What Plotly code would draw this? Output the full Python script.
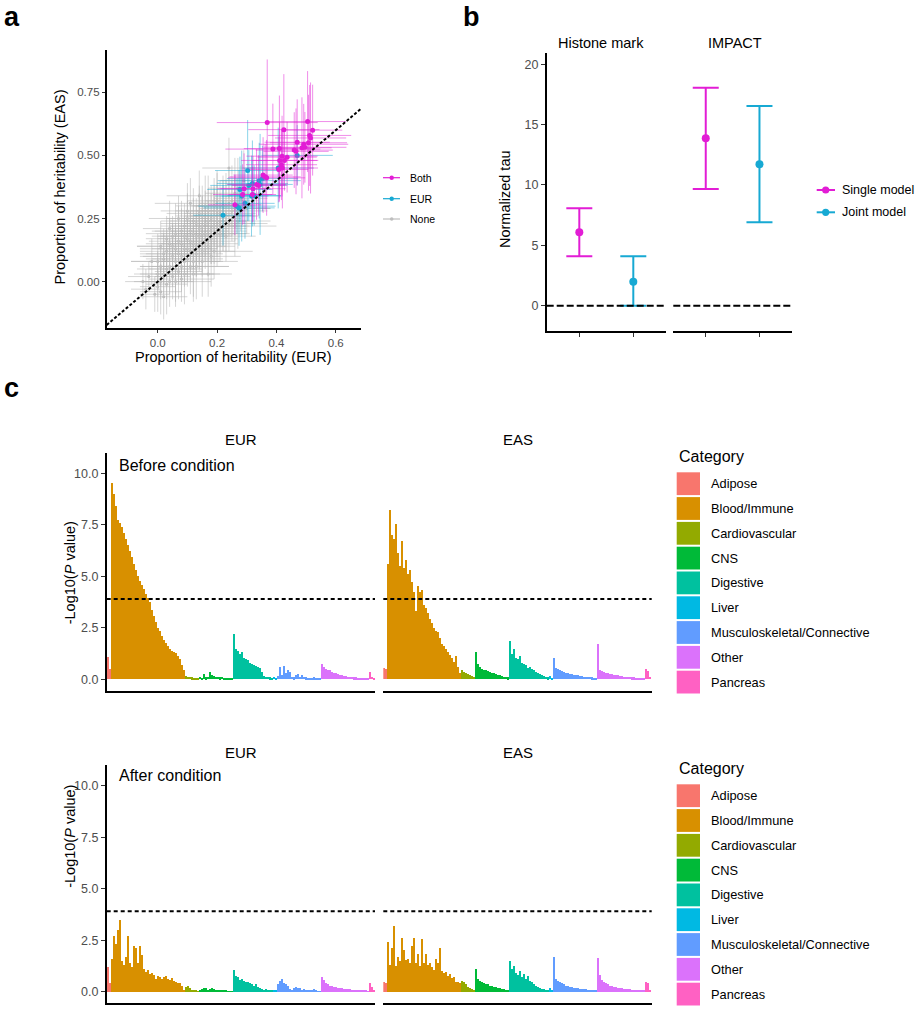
import numpy as np
import plotly.graph_objects as go

W, H = 915, 1010
FONT = "Liberation Sans, Arial, sans-serif"
TICK_GREY = "#4D4D4D"

# ---------------- panel a: proportion of heritability ----------------
both_x = [0.369, 0.425, 0.505, 0.522, 0.512, 0.515, 0.470, 0.508, 0.492, 0.486, 0.496,
          0.388, 0.410, 0.460, 0.466, 0.419, 0.436, 0.411, 0.427, 0.417, 0.408, 0.420,
          0.355, 0.362, 0.333, 0.340, 0.321, 0.291, 0.286, 0.319, 0.260, 0.367]
both_y = [0.630, 0.602, 0.634, 0.600, 0.579, 0.569, 0.552, 0.550, 0.544, 0.530, 0.532,
          0.525, 0.527, 0.521, 0.516, 0.497, 0.493, 0.480, 0.480, 0.463, 0.444, 0.450,
          0.422, 0.415, 0.385, 0.381, 0.368, 0.368, 0.345, 0.345, 0.304, 0.411]
both_xerr = [0.17, 0.12, 0.13, 0.10, 0.14, 0.12, 0.11, 0.13, 0.15, 0.10, 0.14,
             0.16, 0.12, 0.13, 0.11, 0.12, 0.10, 0.13, 0.11, 0.12, 0.10, 0.12,
             0.10, 0.12, 0.10, 0.09, 0.11, 0.09, 0.10, 0.08, 0.09, 0.13]
both_yerr = [0.25, 0.22, 0.20, 0.18, 0.20, 0.22, 0.17, 0.19, 0.16, 0.20, 0.14,
             0.18, 0.21, 0.15, 0.17, 0.16, 0.14, 0.15, 0.12, 0.14, 0.13, 0.16,
             0.15, 0.13, 0.14, 0.12, 0.13, 0.14, 0.12, 0.11, 0.12, 0.15]

eur_x = [0.220, 0.274, 0.283, 0.303, 0.307, 0.316, 0.319, 0.342, 0.345, 0.353, 0.325,
         0.294, 0.267, 0.406, 0.470, 0.277]
eur_y = [0.263, 0.292, 0.339, 0.440, 0.381, 0.339, 0.389, 0.400, 0.385, 0.408, 0.341,
         0.310, 0.299, 0.450, 0.500, 0.365]
eur_xerr = [0.10, 0.12, 0.09, 0.11, 0.13, 0.10, 0.12, 0.14, 0.11, 0.12, 0.09,
            0.10, 0.13, 0.12, 0.12, 0.11]
eur_yerr = [0.12, 0.15, 0.18, 0.20, 0.14, 0.16, 0.17, 0.15, 0.20, 0.13, 0.12,
            0.14, 0.11, 0.16, 0.12, 0.13]

none_x = [-0.05, -0.04, -0.03, -0.01, 0.00, 0.00, 0.01, 0.01, 0.02, 0.02, 0.03, 0.03,
          0.04, 0.04, 0.05, 0.05, 0.05, 0.06, 0.06, 0.07, 0.07, 0.08, 0.08, 0.08,
          0.09, 0.09, 0.10, 0.10, 0.10, 0.11, 0.11, 0.12, 0.12, 0.12, 0.13, 0.13,
          0.14, 0.14, 0.15, 0.15, 0.15, 0.16, 0.16, 0.17, 0.17, 0.17, 0.18, 0.18,
          0.19, 0.19, 0.20, 0.20, 0.21, 0.21, 0.22, 0.22, 0.23, 0.24, 0.24, 0.25,
          0.26, 0.27, 0.28, 0.30, 0.10, 0.16, 0.06, 0.02, 0.09, 0.13, 0.04, 0.07,
          0.11, -0.02, 0.19, 0.23, 0.26, 0.29, 0.14, 0.01,
          0.00, 0.01, 0.03, 0.04, 0.05, 0.06, 0.07, 0.08, 0.09, 0.10, 0.11, 0.11,
          0.12, 0.13, 0.13, 0.14, 0.15, 0.15, 0.16, 0.17, 0.17, 0.18, 0.19, 0.20,
          0.20, 0.21, 0.22, 0.23, 0.24, 0.25, 0.02, 0.06, 0.08, 0.12, 0.18, 0.26,
          0.27, 0.09, 0.14, 0.03]
none_y = [0.00, -0.03, 0.02, -0.05, 0.03, -0.02, 0.06, 0.00, 0.09, 0.03, -0.01, 0.12,
          0.06, 0.15, 0.02, 0.10, 0.18, 0.08, 0.13, 0.04, 0.16, 0.10, 0.20, 0.06,
          0.13, 0.22, 0.09, 0.17, 0.25, 0.12, 0.20, 0.08, 0.15, 0.24, 0.18, 0.11,
          0.21, 0.15, 0.26, 0.12, 0.19, 0.23, 0.16, 0.28, 0.03, 0.20, 0.25, 0.17,
          0.22, 0.30, 0.32, 0.24, 0.19, 0.27, 0.30, 0.22, 0.26, 0.45, 0.31, 0.28,
          0.35, 0.24, 0.33, 0.29, 0.28, 0.30, 0.00, -0.06, 0.03, 0.06, 0.21, 0.25,
          0.31, 0.08, 0.12, 0.18, 0.22, 0.40, 0.34, 0.14,
          0.08, -0.04, 0.05, 0.00, 0.14, 0.05, 0.11, 0.15, 0.08, 0.13, 0.16, 0.06,
          0.19, 0.14, 0.23, 0.18, 0.22, 0.08, 0.19, 0.24, 0.14, 0.21, 0.26, 0.19,
          0.28, 0.23, 0.26, 0.30, 0.23, 0.32, 0.11, 0.19, 0.01, 0.03, 0.10, 0.29,
          0.37, 0.18, 0.27, 0.17]
none_xerr = [0.06, 0.05, 0.07, 0.05, 0.08, 0.06, 0.07, 0.09, 0.06, 0.08, 0.07, 0.09,
             0.10, 0.08, 0.06, 0.11, 0.07, 0.09, 0.12, 0.08, 0.10, 0.13, 0.09, 0.07,
             0.11, 0.08, 0.12, 0.10, 0.07, 0.09, 0.13, 0.10, 0.08, 0.11, 0.12, 0.09,
             0.10, 0.13, 0.09, 0.11, 0.08, 0.12, 0.10, 0.11, 0.08, 0.13, 0.10, 0.09,
             0.12, 0.08, 0.10, 0.11, 0.09, 0.12, 0.10, 0.08, 0.11, 0.09, 0.10, 0.12,
             0.10, 0.11, 0.09, 0.08, 0.09, 0.10, 0.12, 0.08, 0.10, 0.11, 0.09, 0.10,
             0.12, 0.07, 0.13, 0.10, 0.14, 0.08, 0.11, 0.08,
             0.09, 0.07, 0.10, 0.08, 0.12, 0.09, 0.11, 0.08, 0.12, 0.10, 0.09, 0.13,
             0.11, 0.10, 0.12, 0.09, 0.11, 0.12, 0.10, 0.13, 0.09, 0.12, 0.10, 0.11,
             0.09, 0.12, 0.11, 0.10, 0.13, 0.09, 0.08, 0.10, 0.11, 0.09, 0.10, 0.12,
             0.10, 0.09, 0.11, 0.07]
none_yerr = [0.07, 0.08, 0.06, 0.07, 0.09, 0.10, 0.08, 0.07, 0.10, 0.08, 0.12, 0.09,
             0.11, 0.10, 0.09, 0.12, 0.08, 0.13, 0.10, 0.11, 0.14, 0.09, 0.12, 0.10,
             0.13, 0.09, 0.11, 0.15, 0.10, 0.12, 0.11, 0.14, 0.10, 0.13, 0.12, 0.09,
             0.14, 0.11, 0.12, 0.10, 0.15, 0.13, 0.11, 0.14, 0.09, 0.12, 0.13, 0.10,
             0.15, 0.11, 0.12, 0.14, 0.11, 0.13, 0.12, 0.10, 0.14, 0.12, 0.13, 0.12,
             0.14, 0.11, 0.13, 0.10, 0.11, 0.12, 0.10, 0.09, 0.12, 0.13, 0.11, 0.09,
             0.10, 0.09, 0.11, 0.10, 0.12, 0.12, 0.10, 0.10,
             0.11, 0.09, 0.12, 0.10, 0.09, 0.13, 0.12, 0.14, 0.10, 0.13, 0.12, 0.11,
             0.14, 0.12, 0.10, 0.13, 0.12, 0.14, 0.11, 0.13, 0.12, 0.14, 0.12, 0.13,
             0.15, 0.12, 0.14, 0.13, 0.11, 0.14, 0.10, 0.12, 0.09, 0.11, 0.12, 0.13,
             0.12, 0.10, 0.11, 0.09]

# ---------------- panel b: normalized tau ----------------
b_models = ["Single model", "Joint model"]
b_histone = [6.08, 1.99]
b_histone_lo = [4.09, 0.0]
b_histone_hi = [8.07, 4.09]
b_impact = [13.87, 11.71]
b_impact_lo = [9.67, 6.91]
b_impact_hi = [18.06, 16.55]

# ---------------- panel c: -log10(P) per annotation ----------------
CATEGORIES = ["Adipose", "Blood/Immune", "Cardiovascular", "CNS", "Digestive", "Liver",
              "Musculoskeletal/Connective", "Other", "Pancreas"]
CAT_COLORS = ["#F8766D", "#D89000", "#93AA00", "#00BA38", "#00C19F", "#00B9E3",
              "#619CFF", "#DB72FB", "#FF61C3"]
THRESHOLD = 3.9

eur_before = {
    "Adipose": [1.05, 0.5],
    "Blood/Immune": [9.5, 9.0, 8.4, 7.7, 7.55, 7.4, 7.1, 6.8, 6.5, 6.2, 5.9, 5.6, 5.3, 5.0,
                     4.75, 4.55, 4.35, 4.15, 3.95, 3.75, 3.35, 3.05, 2.75, 2.5, 2.35, 2.1,
                     1.9, 1.75, 1.6, 1.45, 1.35, 1.3, 1.25, 1.1, 0.95, 0.7, 0.45],
    "Cardiovascular": [0.15, 0.12, 0.1, 0.08, 0.06, 0.04, 0.02],
    "CNS": [0.1, 0.05, 0.25, 0.08, 0.12, 0.35, 0.2, 0.15, 0.12, 0.1, 0.08, 0.1, 0.06, 0.05,
            0.04, 0.05, 0.03],
    "Digestive": [2.2, 1.45, 1.35, 1.2, 1.3, 1.0, 0.95, 0.9, 0.8, 0.75, 0.7, 0.65, 0.6, 0.55,
                  0.35, 0.15, 0.1, 0.1, 0.08, 0.05],
    "Liver": [0.1, 0.05],
    "Musculoskeletal/Connective": [0.15, 0.6, 0.2, 0.65, 0.3, 0.45, 0.35, 0.1, 0.08, 0.2, 0.22,
                                   0.1, 0.2, 0.12, 0.08, 0.05, 0.05, 0.04, 0.08, 0.03, 0.03, 0.02],
    "Other": [0.75, 0.6, 0.5, 0.45, 0.42, 0.35, 0.3, 0.28, 0.25, 0.2, 0.18, 0.15, 0.15, 0.12,
              0.1, 0.1, 0.08, 0.08, 0.06, 0.05, 0.05, 0.04, 0.04, 0.03],
    "Pancreas": [0.32, 0.1, 0.05],
}
eas_before = {
    "Adipose": [0.55, 0.5],
    "Blood/Immune": [5.6, 8.2, 7.0, 6.8, 7.5, 6.1, 5.5, 6.7, 5.4, 5.8, 5.1, 5.3, 4.7, 4.2, 3.3,
                     4.5, 4.2, 4.3, 3.6, 3.45, 3.2, 2.9, 2.7, 2.5, 2.35, 2.3, 2.0, 1.7, 1.6,
                     1.45, 1.3, 1.15, 1.0, 0.85, 1.1, 0.6, 0.3],
    "Cardiovascular": [0.45, 0.35, 0.3, 0.25, 0.2, 0.15, 0.1],
    "CNS": [1.3, 0.75, 0.6, 0.5, 0.45, 0.45, 0.4, 0.35, 0.3, 0.3, 0.25, 0.2, 0.2, 0.15, 0.12,
            0.1, 0.08],
    "Digestive": [1.85, 1.2, 1.45, 1.0, 0.95, 1.1, 0.8, 0.75, 0.7, 0.55, 0.6, 0.5, 0.45, 0.35,
                  0.3, 0.25, 0.2, 0.15, 0.1, 0.08],
    "Liver": [0.15, 0.05],
    "Musculoskeletal/Connective": [1.0, 0.55, 0.5, 0.45, 0.4, 0.35, 0.3, 0.3, 0.25, 0.25, 0.2,
                                   0.2, 0.18, 0.15, 0.15, 0.12, 0.12, 0.1, 0.1, 0.08, 0.06, 0.05],
    "Other": [1.7, 0.45, 0.4, 0.35, 0.3, 0.3, 0.25, 0.22, 0.2, 0.2, 0.18, 0.15, 0.15, 0.12,
              0.12, 0.1, 0.1, 0.08, 0.08, 0.07, 0.06, 0.05, 0.05, 0.05],
    "Pancreas": [0.5, 0.4, 0.1],
}
eur_after = {
    "Adipose": [1.2, 0.4],
    "Blood/Immune": [1.6, 2.7, 2.3, 3.0, 3.5, 1.5, 1.3, 1.7, 2.7, 1.4, 1.2, 2.2, 2.1, 1.4, 2.2,
                     1.8, 1.1, 0.95, 1.05, 0.85, 0.9, 0.8, 0.6, 0.75, 0.7, 0.6, 0.7, 0.75, 0.6,
                     0.55, 0.65, 0.5, 0.45, 0.4, 0.4, 0.3, 0.1],
    "Cardiovascular": [0.25, 0.28, 0.2, 0.1, 0.05, 0.05, 0.02],
    "CNS": [0.05, 0.15, 0.2, 0.18, 0.1, 0.15, 0.2, 0.12, 0.08, 0.05, 0.1, 0.05, 0.04, 0.05,
            0.03, 0.03, 0.02],
    "Digestive": [1.05, 0.75, 0.7, 0.55, 0.6, 0.5, 0.45, 0.45, 0.4, 0.35, 0.3, 0.35, 0.25, 0.2,
                  0.15, 0.1, 0.12, 0.08, 0.05, 0.05],
    "Liver": [0.1, 0.05],
    "Musculoskeletal/Connective": [0.35, 0.5, 0.6, 0.4, 0.35, 0.3, 0.15, 0.1, 0.2, 0.22, 0.18,
                                   0.2, 0.1, 0.12, 0.08, 0.05, 0.1, 0.05, 0.12, 0.04, 0.03, 0.02],
    "Other": [0.7, 0.55, 0.4, 0.35, 0.3, 0.28, 0.25, 0.22, 0.2, 0.2, 0.18, 0.15, 0.15, 0.12,
              0.12, 0.1, 0.1, 0.08, 0.07, 0.06, 0.05, 0.05, 0.04, 0.03],
    "Pancreas": [0.4, 0.25, 0.05],
}
eas_after = {
    "Adipose": [0.45, 0.4],
    "Blood/Immune": [2.4, 1.3, 2.1, 3.2, 1.25, 1.7, 1.5, 2.6, 2.0, 1.55, 1.6, 1.4, 2.2, 2.6,
                     1.4, 1.85, 1.25, 2.55, 1.4, 1.85, 1.3, 1.4, 1.2, 1.05, 1.6, 1.4, 2.1, 1.0,
                     0.9, 0.95, 0.75, 0.85, 0.65, 0.7, 0.45, 0.45, 0.4],
    "Cardiovascular": [0.5, 0.45, 0.35, 0.25, 0.2, 0.15, 0.1],
    "CNS": [1.1, 0.6, 0.5, 0.45, 0.4, 0.38, 0.35, 0.3, 0.28, 0.25, 0.22, 0.2, 0.18, 0.15, 0.12,
            0.1, 0.08],
    "Digestive": [1.5, 1.1, 1.25, 0.9, 0.8, 1.0, 0.7, 0.85, 0.6, 0.75, 0.5, 0.45, 0.35, 0.3,
                  0.25, 0.2, 0.15, 0.12, 0.1, 0.08],
    "Liver": [0.2, 0.05],
    "Musculoskeletal/Connective": [1.7, 0.6, 0.5, 0.45, 0.4, 0.35, 0.3, 0.28, 0.25, 0.22, 0.2,
                                   0.2, 0.18, 0.15, 0.15, 0.12, 0.12, 0.1, 0.1, 0.08, 0.06, 0.05],
    "Other": [1.65, 0.8, 0.55, 0.45, 0.4, 0.35, 0.3, 0.3, 0.25, 0.22, 0.2, 0.2, 0.18, 0.15,
              0.15, 0.12, 0.12, 0.1, 0.1, 0.08, 0.07, 0.06, 0.05, 0.05],
    "Pancreas": [0.48, 0.4, 0.1],
}

MAGENTA = "#E21DD5"
TEAL = "#17A9D3"
GREY = "#BEBEBE"


def px(x):
    return x / W


def py(y):
    return 1 - y / H


fig = go.Figure()

# ---- panel a traces ----
for xs, ys, ex, ey, col, err_col, size in [
    (none_x, none_y, none_xerr, none_yerr, GREY, "rgba(180,180,180,0.55)", 3),
    (eur_x, eur_y, eur_xerr, eur_yerr, TEAL, "rgba(23,169,211,0.5)", 5),
    (both_x, both_y, both_xerr, both_yerr, MAGENTA, "rgba(226,29,213,0.5)", 5),
]:
    fig.add_trace(go.Scatter(
        x=xs, y=ys, mode="markers",
        marker=dict(color=col, size=size, line=dict(width=0)),
        error_x=dict(type="data", array=ex, color=err_col, thickness=1, width=0),
        error_y=dict(type="data", array=ey, color=err_col, thickness=1, width=0),
        xaxis="x", yaxis="y", showlegend=False, hoverinfo="skip"
    ))

# ---- panel b traces ----
for vals, lo, hi, xa in [(b_histone, b_histone_lo, b_histone_hi, "x2"),
                         (b_impact, b_impact_lo, b_impact_hi, "x3")]:
    for i, (model, col) in enumerate(zip(b_models, [MAGENTA, TEAL])):
        fig.add_trace(go.Scatter(
            x=[model], y=[vals[i]], mode="markers",
            marker=dict(color=col, size=8),
            error_y=dict(type="data", symmetric=False, array=[hi[i] - vals[i]],
                         arrayminus=[vals[i] - lo[i]], color=col, thickness=2, width=13),
            xaxis=xa, yaxis="y2", showlegend=False, hoverinfo="skip"
        ))


# ---- panel c bars ----
def add_bars(data, xa, ya):
    vals, cols = [], []
    for cat, col in zip(CATEGORIES, CAT_COLORS):
        vals += data[cat]
        cols += [col] * len(data[cat])
    fig.add_trace(go.Bar(
        x=np.arange(len(vals)), y=vals, width=1.0,
        marker=dict(color=cols, line=dict(width=0)),
        xaxis=xa, yaxis=ya, showlegend=False, hoverinfo="skip"
    ))
    return len(vals)


n_bars = add_bars(eur_before, "x4", "y4")
add_bars(eas_before, "x5", "y4")
add_bars(eur_after, "x6", "y5")
add_bars(eas_after, "x7", "y5")

line_style = dict(showline=True, linecolor="black", linewidth=1.6, showgrid=False,
                  zeroline=False, mirror=False)
tick_font = lambda s: dict(family=FONT, size=s, color=TICK_GREY)

layout = dict(
    width=W, height=H, autosize=False,
    margin=dict(l=0, r=0, t=0, b=0),
    paper_bgcolor="white", plot_bgcolor="white",
    barmode="overlay", bargap=0,
    font=dict(family=FONT, color="black"),
    showlegend=False,
    # panel a
    xaxis=dict(domain=[px(106.7), px(361)], range=[-0.172, 0.685], anchor="y",
               tickvals=[0, 0.2, 0.4, 0.6], ticktext=["0.0", "0.2", "0.4", "0.6"],
               ticks="outside", ticklen=3, tickwidth=1.2, tickcolor="#333",
               tickfont=tick_font(11.5), **line_style),
    yaxis=dict(domain=[py(328.3), py(50)], range=[-0.185, 0.9175], anchor="x",
               tickvals=[0, 0.25, 0.5, 0.75], ticktext=["0.00", "0.25", "0.50", "0.75"],
               ticks="outside", ticklen=3, tickwidth=1.2, tickcolor="#333",
               tickfont=tick_font(11.5), **line_style),
    # panel b
    xaxis2=dict(domain=[px(546.7), px(665.7)], range=[-0.604, 1.6], anchor="y2",
                type="category", categoryorder="array", categoryarray=b_models,
                showticklabels=False, ticks="outside", ticklen=4, tickwidth=1.2,
                tickcolor="#333", **line_style),
    xaxis3=dict(domain=[px(673.3), px(791.7)], range=[-0.604, 1.6], anchor="y2",
                type="category", categoryorder="array", categoryarray=b_models,
                showticklabels=False, ticks="outside", ticklen=4, tickwidth=1.2,
                tickcolor="#333", **line_style),
    yaxis2=dict(domain=[py(331), py(53.3)], range=[-2.1, 20.91], anchor="x2",
                tickvals=[0, 5, 10, 15, 20], ticks="outside", ticklen=4, tickwidth=1.2,
                tickcolor="#333", tickfont=tick_font(12.5), **line_style),
)

# panel c axes
for name, dom, ya in [("xaxis4", [106.7, 375], "y4"), ("xaxis5", [383.3, 651.7], "y4"),
                      ("xaxis6", [106.7, 375], "y5"), ("xaxis7", [383.3, 651.7], "y5")]:
    layout[name] = dict(domain=[px(dom[0]), px(dom[1])], range=[-0.5, n_bars - 0.5],
                        anchor=ya, showticklabels=False, ticks="", **line_style)
for name, dom, rng, xa in [("yaxis4", [690.7, 453.3], [-0.553, 10.97], "x4"),
                           ("yaxis5", [1003.3, 765], [-0.563, 11.0], "x6")]:
    layout[name] = dict(domain=[py(dom[0]), py(dom[1])], range=rng, anchor=xa,
                        tickvals=[0, 2.5, 5, 7.5, 10],
                        ticktext=["0.0", "2.5", "5.0", "7.5", "10.0"],
                        ticks="outside", ticklen=4, tickwidth=1.2, tickcolor="#333",
                        tickfont=tick_font(12.5), **line_style)

fig.update_layout(**layout)

shapes = []
annotations = []


def text(x, y, s, size, xanchor="center", yanchor="middle", angle=0, bold=False,
         color="black"):
    annotations.append(dict(
        x=px(x), y=py(y), xref="paper", yref="paper", text=f"<b>{s}</b>" if bold else s,
        showarrow=False, xanchor=xanchor, yanchor=yanchor, textangle=angle,
        font=dict(family=FONT, size=size, color=color)))


def dot(cx, cy, r, col):
    shapes.append(dict(type="circle", xref="paper", yref="paper",
                       x0=px(cx - r), x1=px(cx + r), y0=py(cy + r), y1=py(cy - r),
                       fillcolor=col, line=dict(width=0)))


def hline(x0, x1, y, col, width):
    shapes.append(dict(type="line", xref="paper", yref="paper",
                       x0=px(x0), x1=px(x1), y0=py(y), y1=py(y),
                       line=dict(color=col, width=width)))


# panel letters
text(2, 17, "a", 27, xanchor="left", bold=True)
text(461, 17, "b", 27, xanchor="left", bold=True)
text(2, 388, "c", 27, xanchor="left", bold=True)

# panel a: identity line, titles, legend
shapes.append(dict(type="line", xref="x", yref="y", x0=-0.172, y0=-0.172, x1=0.685, y1=0.685,
                   line=dict(color="black", width=2, dash="3px,2px")))
text(233.8, 357, "Proportion of heritability (EUR)", 14.5)
text(60, 187.5, "Proportion of heritability (EAS)", 14.5, angle=-90)
for yy, lab, col, r in [(177.7, "Both", MAGENTA, 2.2), (198.7, "EUR", TEAL, 2.2),
                        (219, "None", GREY, 1.8)]:
    hline(383, 400, yy, col, 1.2)
    dot(391.7, yy, r, col)
    text(408.3, yy, lab, 10.5, xanchor="left")

# panel b: zero line, strips, title, legend
for xa in ["x2", "x3"]:
    shapes.append(dict(type="line", xref=f"{xa} domain", yref="y2", x0=0, x1=1, y0=0, y1=0,
                       line=dict(color="black", width=2, dash="7px,3px")))
text(601, 43.3, "Histone mark", 14.5)
text(735, 43.3, "IMPACT", 14.5)
text(505, 199, "Normalized tau", 14.5, angle=-90)
for yy, lab, col in [(190, "Single model", MAGENTA), (212.3, "Joint model", TEAL)]:
    hline(816.7, 835, yy, col, 2)
    dot(825.7, yy, 3.6, col)
    text(840, yy, lab, 12.5, xanchor="left")

# panel c: thresholds, titles, legends
for xa, ya in [("x4", "y4"), ("x5", "y4"), ("x6", "y5"), ("x7", "y5")]:
    shapes.append(dict(type="line", xref=f"{xa} domain", yref=ya, x0=0, x1=1,
                       y0=THRESHOLD, y1=THRESHOLD,
                       line=dict(color="black", width=2, dash="4px,3px")))

for dy, cond in [(0, "Before condition"), (312, "After condition")]:
    text(240.8, 440 + dy, "EUR", 15)
    text(517.5, 440 + dy, "EAS", 15)
    text(117, 466 + dy - (3 if dy else 0), cond, 16, xanchor="left")
    annotations.append(dict(
        x=px(60), y=py(573.3 + dy + (5 if dy else 0)), xref="paper", yref="paper",
        text="-Log10(<i>P</i> value)", showarrow=False, textangle=-90,
        font=dict(family=FONT, size=14.5, color="black")))
    text(676.7, 456.7 + dy, "Category", 16, xanchor="left")
    for k, (cat, col) in enumerate(zip(CATEGORIES, CAT_COLORS)):
        top = 471.7 + dy + k * 24.8
        shapes.append(dict(type="rect", xref="paper", yref="paper",
                           x0=px(676.7), x1=px(700), y0=py(top + 23.4), y1=py(top + 0.6),
                           fillcolor=col, line=dict(width=0)))
        text(709.3, top + 12, cat, 12.8, xanchor="left")

fig.update_layout(shapes=shapes, annotations=annotations)
# the page body has an 8px default margin; drop it so the figure fills the window
fig.write_html("out.html", config={"displayModeBar": False},
               post_script="document.body.style.margin='0px';")
